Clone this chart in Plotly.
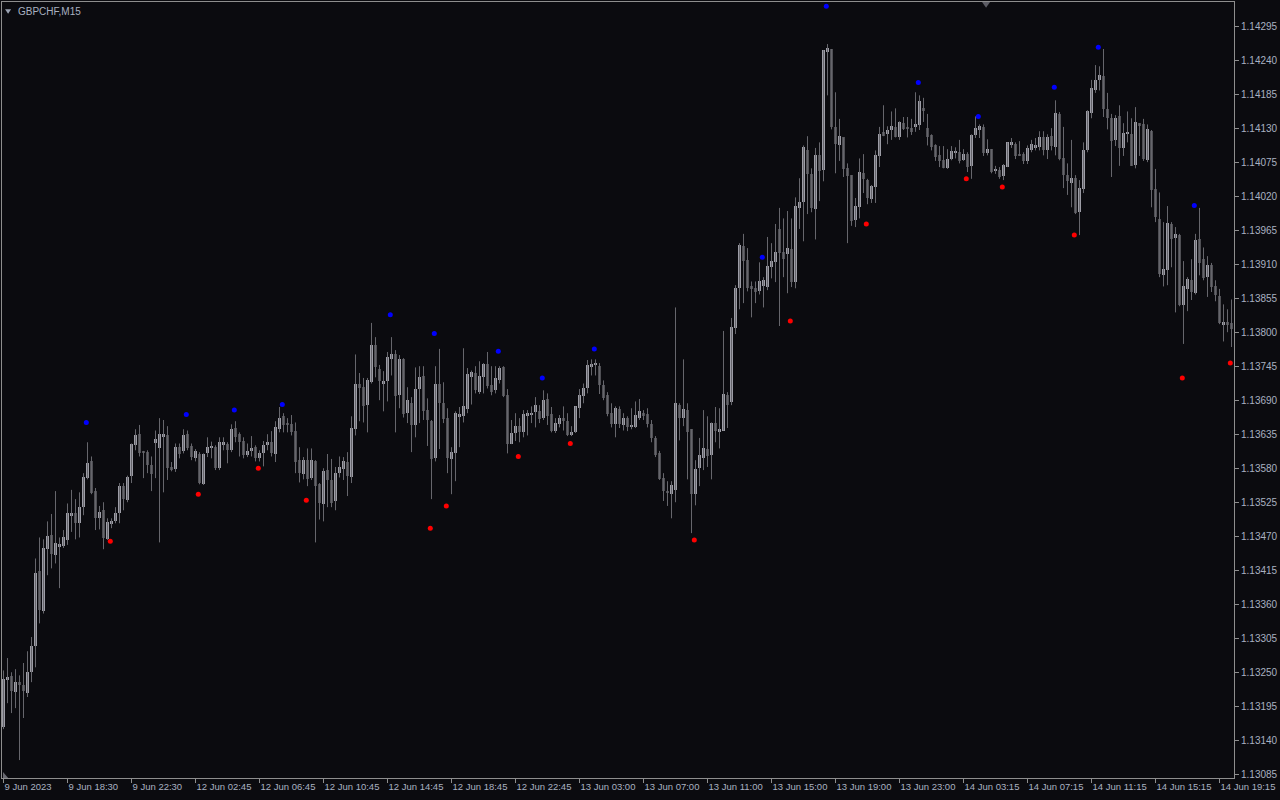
import plotly.graph_objects as go

open_ = [1.13161,1.13237,1.13244,1.13218,1.13235,1.13229,1.13216,1.13250,1.13292,1.13413,
1.13349,1.13449,1.13472,1.13439,1.13454,1.13454,1.13464,1.13504,1.13507,1.13491,
1.13517,1.13564,1.13591,1.13543,1.13499,1.13512,1.13465,1.13491,1.13494,1.13507,
1.13551,1.13528,1.13567,1.13617,1.13635,1.13607,1.13606,1.13586,1.13620,1.13612,
1.13632,1.13633,1.13582,1.13578,1.13614,1.13608,1.13635,1.13616,1.13596,1.13603,
1.13554,1.13604,1.13612,1.13614,1.13580,1.13619,1.13619,1.13609,1.13645,1.13635,
1.13624,1.13601,1.13608,1.13614,1.13596,1.13604,1.13617,1.13622,1.13603,1.13643,
1.13664,1.13652,1.13651,1.13641,1.13593,1.13570,1.13593,1.13564,1.13591,1.13554,
1.13522,1.13577,1.13561,1.13527,1.13572,1.13578,1.13590,1.13565,1.13643,1.13716,
1.13711,1.13682,1.13719,1.13779,1.13740,1.13717,1.13721,1.13756,1.13764,1.13698,
1.13756,1.13669,1.13685,1.13650,1.13708,1.13729,1.13674,1.13656,1.13596,1.13716,
1.13685,1.13661,1.13595,1.13604,1.13664,1.13664,1.13675,1.13727,1.13734,1.13704,
1.13727,1.13748,1.13714,1.13706,1.13722,1.13743,1.13698,1.13619,1.13637,1.13648,
1.13638,1.13666,1.13667,1.13671,1.13672,1.13662,1.13692,1.13667,1.13641,1.13651,
1.13661,1.13656,1.13635,1.13638,1.13677,1.13696,1.13709,1.13743,1.13747,1.13745,
1.13714,1.13698,1.13669,1.13651,1.13675,1.13650,1.13661,1.13646,1.13646,1.13662,
1.13669,1.13667,1.13651,1.13629,1.13604,1.13564,1.13543,1.13538,1.13545,1.13682,
1.13662,1.13674,1.13643,1.13538,1.13580,1.13596,1.13611,1.13601,1.13653,1.13638,
1.13641,1.13698,1.13687,1.13806,1.13871,1.13939,1.13917,1.13874,1.13871,1.13866,
1.13874,1.13873,1.13905,1.13913,1.13967,1.13929,1.13926,1.13934,1.13881,1.14001,
1.14010,1.14094,1.14056,1.13999,1.14086,1.14062,1.14253,1.14258,1.14132,1.14102,
1.14115,1.14065,1.14054,1.13981,1.14002,1.14057,1.14046,1.14015,1.14035,1.14085,
1.14124,1.14120,1.14127,1.14132,1.14115,1.14138,1.14130,1.14130,1.14132,1.14135,
1.14162,1.14130,1.14119,1.14102,1.14086,1.14078,1.14065,1.14080,1.14090,1.14091,
1.14078,1.14088,1.14069,1.14119,1.14127,1.14132,1.14090,1.14096,1.14060,1.14062,
1.14052,1.14067,1.14102,1.14104,1.14088,1.14088,1.14077,1.14094,1.14098,1.14099,
1.14115,1.14094,1.14117,1.14099,1.14153,1.14081,1.14054,1.14041,1.14049,1.13994,
1.14031,1.14094,1.14154,1.14191,1.14208,1.14214,1.14161,1.14146,1.14111,1.14149,
1.14098,1.14122,1.14120,1.14070,1.14138,1.14136,1.14078,1.14125,1.14031,1.13983,
1.13892,1.13900,1.13975,1.13952,1.13957,1.13844,1.13870,1.13884,1.13863,1.13950,
1.13918,1.13889,1.13908,1.13874,1.13858,1.13813,1.13816,1.13815]

high = [1.13253,1.13273,1.13250,1.13255,1.13245,1.13265,1.13284,1.13307,1.13434,1.13468,
1.13465,1.13494,1.13506,1.13543,1.13468,1.13480,1.13523,1.13545,1.13530,1.13541,
1.13572,1.13622,1.13599,1.13548,1.13519,1.13525,1.13499,1.13499,1.13517,1.13556,
1.13556,1.13568,1.13620,1.13643,1.13650,1.13608,1.13609,1.13599,1.13641,1.13661,
1.13658,1.13648,1.13590,1.13620,1.13620,1.13643,1.13641,1.13620,1.13611,1.13606,
1.13604,1.13630,1.13623,1.13617,1.13630,1.13630,1.13622,1.13651,1.13656,1.13638,
1.13630,1.13620,1.13632,1.13617,1.13609,1.13624,1.13635,1.13640,1.13656,1.13679,
1.13669,1.13661,1.13666,1.13654,1.13614,1.13598,1.13612,1.13612,1.13593,1.13556,
1.13580,1.13603,1.13595,1.13582,1.13599,1.13598,1.13606,1.13664,1.13764,1.13734,
1.13726,1.13726,1.13815,1.13792,1.13747,1.13737,1.13768,1.13792,1.13771,1.13763,
1.13758,1.13711,1.13695,1.13743,1.13745,1.13745,1.13693,1.13658,1.13745,1.13773,
1.13719,1.13677,1.13614,1.13672,1.13679,1.13774,1.13742,1.13738,1.13745,1.13753,
1.13750,1.13768,1.13745,1.13745,1.13745,1.13745,1.13708,1.13658,1.13669,1.13661,
1.13674,1.13674,1.13680,1.13695,1.13682,1.13706,1.13701,1.13679,1.13661,1.13666,
1.13680,1.13669,1.13648,1.13680,1.13708,1.13717,1.13755,1.13756,1.13756,1.13750,
1.13722,1.13703,1.13685,1.13680,1.13680,1.13669,1.13664,1.13677,1.13688,1.13692,
1.13674,1.13677,1.13658,1.13632,1.13608,1.13572,1.13559,1.13559,1.13840,1.13685,
1.13756,1.13685,1.13643,1.13593,1.13629,1.13674,1.13664,1.13654,1.13679,1.13677,
1.13802,1.13703,1.13823,1.13876,1.13944,1.13959,1.13936,1.13882,1.13882,1.13913,
1.13889,1.13954,1.13944,1.13975,1.14001,1.13984,1.13996,1.13984,1.14018,1.14049,
1.14102,1.14117,1.14065,1.14098,1.14107,1.14256,1.14266,1.14258,1.14188,1.14145,
1.14115,1.14073,1.14054,1.14017,1.14081,1.14088,1.14048,1.14038,1.14094,1.14132,
1.14167,1.14133,1.14157,1.14162,1.14141,1.14148,1.14148,1.14145,1.14188,1.14183,
1.14179,1.14153,1.14120,1.14104,1.14101,1.14101,1.14096,1.14101,1.14099,1.14111,
1.14096,1.14091,1.14120,1.14149,1.14136,1.14136,1.14112,1.14096,1.14069,1.14067,
1.14072,1.14107,1.14114,1.14107,1.14109,1.14091,1.14102,1.14111,1.14114,1.14125,
1.14125,1.14120,1.14130,1.14175,1.14156,1.14132,1.14073,1.14111,1.14054,1.14046,
1.14107,1.14159,1.14208,1.14232,1.14230,1.14258,1.14187,1.14153,1.14151,1.14167,
1.14138,1.14157,1.14146,1.14164,1.14138,1.14145,1.14136,1.14127,1.14064,1.14026,
1.13978,1.14004,1.13978,1.13970,1.13959,1.13915,1.13889,1.13918,1.13959,1.14001,
1.13937,1.13923,1.13912,1.13884,1.13870,1.13845,1.13837,1.13853]

low = [1.13158,1.13200,1.13184,1.13192,1.13108,1.13176,1.13210,1.13234,1.13258,1.13329,
1.13345,1.13407,1.13418,1.13426,1.13386,1.13451,1.13456,1.13477,1.13465,1.13468,
1.13504,1.13562,1.13538,1.13480,1.13481,1.13449,1.13464,1.13483,1.13491,1.13491,
1.13512,1.13525,1.13556,1.13609,1.13599,1.13564,1.13572,1.13543,1.13564,1.13460,
1.13541,1.13561,1.13575,1.13574,1.13596,1.13604,1.13609,1.13593,1.13591,1.13554,
1.13553,1.13598,1.13596,1.13577,1.13577,1.13609,1.13588,1.13606,1.13622,1.13599,
1.13596,1.13598,1.13599,1.13591,1.13591,1.13583,1.13609,1.13599,1.13590,1.13638,
1.13638,1.13638,1.13633,1.13572,1.13557,1.13562,1.13551,1.13561,1.13460,1.13497,
1.13494,1.13517,1.13517,1.13512,1.13565,1.13561,1.13535,1.13556,1.13633,1.13656,
1.13654,1.13638,1.13717,1.13727,1.13690,1.13672,1.13688,1.13730,1.13638,1.13677,
1.13662,1.13653,1.13606,1.13630,1.13653,1.13658,1.13616,1.13530,1.13591,1.13611,
1.13653,1.13572,1.13538,1.13559,1.13614,1.13654,1.13669,1.13683,1.13701,1.13700,
1.13701,1.13709,1.13698,1.13701,1.13717,1.13695,1.13604,1.13619,1.13624,1.13622,
1.13630,1.13633,1.13653,1.13646,1.13653,1.13658,1.13650,1.13638,1.13637,1.13646,
1.13641,1.13632,1.13632,1.13637,1.13661,1.13685,1.13701,1.13730,1.13730,1.13700,
1.13690,1.13664,1.13646,1.13630,1.13645,1.13641,1.13640,1.13643,1.13645,1.13658,
1.13658,1.13646,1.13622,1.13598,1.13561,1.13527,1.13519,1.13499,1.13525,1.13625,
1.13648,1.13562,1.13475,1.13520,1.13551,1.13577,1.13582,1.13562,1.13622,1.13612,
1.13641,1.13645,1.13682,1.13797,1.13837,1.13847,1.13866,1.13824,1.13847,1.13861,
1.13840,1.13868,1.13887,1.13881,1.13810,1.13889,1.13863,1.13873,1.13871,1.13967,
1.13947,1.13991,1.13994,1.13950,1.14012,1.14044,1.14183,1.14128,1.14057,1.14077,
1.14051,1.13944,1.13972,1.13970,1.13984,1.14025,1.14007,1.14009,1.14009,1.14067,
1.14117,1.14104,1.14111,1.14115,1.14111,1.14127,1.14115,1.14119,1.14124,1.14127,
1.14140,1.14102,1.14094,1.14077,1.14067,1.14065,1.14064,1.14078,1.14081,1.14073,
1.14077,1.14059,1.14048,1.14114,1.14114,1.14085,1.14086,1.14057,1.14056,1.14048,
1.14046,1.14067,1.14098,1.14080,1.14085,1.14072,1.14072,1.14091,1.14094,1.14094,
1.14086,1.14080,1.14094,1.14086,1.14078,1.14033,1.14022,1.14002,1.13991,1.13957,
1.14025,1.14091,1.14146,1.14187,1.14191,1.14148,1.14128,1.14051,1.14101,1.14069,
1.14085,1.14107,1.14069,1.14065,1.14085,1.14077,1.14075,1.14002,1.13978,1.13889,
1.13874,1.13876,1.13905,1.13832,1.13842,1.13781,1.13834,1.13852,1.13861,1.13892,
1.13884,1.13857,1.13865,1.13850,1.13813,1.13785,1.13800,1.13776]

close = [1.13239,1.13242,1.13219,1.13234,1.13229,1.13219,1.13251,1.13292,1.13410,1.13350,
1.13451,1.13470,1.13441,1.13459,1.13457,1.13468,1.13507,1.13507,1.13491,1.13517,
1.13565,1.13588,1.13540,1.13499,1.13510,1.13467,1.13493,1.13494,1.13507,1.13551,
1.13530,1.13565,1.13619,1.13633,1.13604,1.13606,1.13586,1.13570,1.13627,1.13635,
1.13635,1.13580,1.13577,1.13614,1.13603,1.13633,1.13612,1.13598,1.13608,1.13556,
1.13603,1.13614,1.13616,1.13580,1.13622,1.13622,1.13609,1.13643,1.13630,1.13622,
1.13601,1.13608,1.13612,1.13596,1.13604,1.13617,1.13622,1.13604,1.13646,1.13662,
1.13650,1.13651,1.13638,1.13590,1.13572,1.13593,1.13562,1.13593,1.13551,1.13523,
1.13575,1.13561,1.13523,1.13572,1.13582,1.13591,1.13567,1.13645,1.13716,1.13709,
1.13680,1.13722,1.13779,1.13743,1.13721,1.13721,1.13760,1.13764,1.13696,1.13756,
1.13667,1.13690,1.13650,1.13708,1.13727,1.13672,1.13658,1.13595,1.13717,1.13685,
1.13659,1.13596,1.13606,1.13669,1.13667,1.13680,1.13732,1.13735,1.13706,1.13729,
1.13748,1.13713,1.13704,1.13726,1.13742,1.13696,1.13619,1.13637,1.13648,1.13638,
1.13667,1.13669,1.13669,1.13683,1.13659,1.13690,1.13664,1.13641,1.13653,1.13661,
1.13656,1.13633,1.13638,1.13680,1.13698,1.13709,1.13747,1.13748,1.13748,1.13714,
1.13693,1.13667,1.13651,1.13677,1.13651,1.13662,1.13646,1.13650,1.13666,1.13672,
1.13664,1.13651,1.13629,1.13601,1.13562,1.13543,1.13541,1.13553,1.13685,1.13662,
1.13675,1.13638,1.13538,1.13578,1.13601,1.13612,1.13599,1.13653,1.13640,1.13643,
1.13700,1.13683,1.13808,1.13871,1.13941,1.13915,1.13871,1.13871,1.13865,1.13882,
1.13884,1.13907,1.13915,1.13929,1.13928,1.13918,1.13936,1.13881,1.14004,1.14010,
1.14099,1.14056,1.14001,1.14086,1.14060,1.14256,1.14259,1.14132,1.14104,1.14117,
1.14064,1.14052,1.13980,1.14004,1.14059,1.14048,1.14017,1.14036,1.14086,1.14120,
1.14117,1.14127,1.14133,1.14115,1.14140,1.14128,1.14129,1.14124,1.14136,1.14174,
1.14159,1.14115,1.14099,1.14083,1.14077,1.14065,1.14080,1.14093,1.14091,1.14077,
1.14088,1.14067,1.14119,1.14130,1.14133,1.14090,1.14096,1.14059,1.14064,1.14051,
1.14070,1.14107,1.14107,1.14085,1.14085,1.14077,1.14098,1.14104,1.14102,1.14115,
1.14094,1.14115,1.14101,1.14154,1.14080,1.14054,1.14044,1.14049,1.13993,1.14033,
1.14094,1.14157,1.14195,1.14208,1.14216,1.14161,1.14146,1.14109,1.14146,1.14098,
1.14122,1.14124,1.14069,1.14140,1.14135,1.14080,1.14128,1.14030,1.13986,1.13894,
1.13902,1.13976,1.13950,1.13959,1.13844,1.13874,1.13886,1.13865,1.13949,1.13912,
1.13887,1.13908,1.13873,1.13860,1.13815,1.13816,1.13811,1.13805]

# indicator dots: bar index and price
blue_idx = [21, 46, 58, 70, 97, 108, 124, 135, 148, 190, 206, 229, 244, 263, 274, 298]
blue_val = [1.13654, 1.13667, 1.13674, 1.13683, 1.13828, 1.13798, 1.13769, 1.13726,
            1.13773, 1.13921, 1.14327, 1.14204, 1.14149, 1.14196, 1.14261, 1.14005]
red_idx = [27, 49, 64, 76, 107, 111, 129, 142, 173, 197, 216, 241, 250, 268, 295, 307]
red_val = [1.13462, 1.13538, 1.13580, 1.13528, 1.13483, 1.13519, 1.13599, 1.13620,
           1.13464, 1.13818, 1.13975, 1.14048, 1.14035, 1.13957, 1.13726, 1.13750]

# x-axis labels (bar index -> time text)
xtick_idx = [0, 16, 32, 48, 64, 80, 96, 112, 128, 144, 160, 176, 192, 208, 224, 240, 256, 272, 288, 304]
xtick_text = ["9 Jun 2023", "9 Jun 18:30", "9 Jun 22:30", "12 Jun 02:45", "12 Jun 06:45",
              "12 Jun 10:45", "12 Jun 14:45", "12 Jun 18:45", "12 Jun 22:45", "13 Jun 03:00",
              "13 Jun 07:00", "13 Jun 11:00", "13 Jun 15:00", "13 Jun 19:00", "13 Jun 23:00",
              "14 Jun 03:15", "14 Jun 07:15", "14 Jun 11:15", "14 Jun 15:15", "14 Jun 19:15"]

ytick_vals = [1.13085, 1.13140, 1.13195, 1.13250, 1.13305, 1.13360, 1.13415, 1.13470,
              1.13525, 1.13580, 1.13635, 1.13690, 1.13745, 1.13800, 1.13855, 1.13910,
              1.13965, 1.14020, 1.14075, 1.14130, 1.14185, 1.14240, 1.14295]
ytick_text = ["%.5f" % v for v in ytick_vals]

# ---- styles ----
BG = "#0b0b0f"
UP_BODY = "#9d9da6"
DN_BODY = "#4f4f54"
WICK = "#66666c"
FRAME = "#8e8e8e"
TEXT = "#a9b1c1"
FONT = "Liberation Sans"
MIN_BODY = 0.000016
DOT_SHIFT = -0.3

n = len(open_)
idx = list(range(n))

wx, wy = [], []
for i in idx:
    wx += [i, i, None]
    wy += [low[i], high[i], None]

base = [min(o, c) for o, c in zip(open_, close)]
height = [max(abs(c - o), MIN_BODY) for o, c in zip(open_, close)]
colors = [UP_BODY if c >= o else DN_BODY for o, c in zip(open_, close)]

fig = go.Figure()
fig.add_trace(go.Scatter(x=wx, y=wy, mode="lines", line=dict(color=WICK, width=1),
                         hoverinfo="skip", showlegend=False))
fig.add_trace(go.Bar(x=idx, y=height, base=base, width=0.75,
                     marker=dict(color=colors, line=dict(width=0)), showlegend=False))
fig.add_trace(go.Scatter(x=[i + DOT_SHIFT for i in blue_idx], y=blue_val, mode="markers",
                         marker=dict(color="#0000ff", size=5), showlegend=False))
fig.add_trace(go.Scatter(x=[i + DOT_SHIFT for i in red_idx], y=red_val, mode="markers",
                         marker=dict(color="#ff0000", size=5), showlegend=False))

fig.update_layout(
    width=1280, height=800,
    margin=dict(l=2, r=46, t=2, b=22, pad=0, autoexpand=False),
    paper_bgcolor=BG, plot_bgcolor=BG,
    bargap=0, showlegend=False,
    font=dict(family=FONT, size=10, color=TEXT),
    xaxis=dict(range=[-0.375, 307.625], tickvals=xtick_idx, ticktext=xtick_text,
               showgrid=False, zeroline=False, showline=True, linecolor=FRAME, linewidth=1,
               mirror=True, ticks="outside", ticklen=4, tickcolor=FRAME, automargin=False,
               ticklabelposition="outside right", ticklabeloverflow="allow",
               tickfont=dict(size=9.5, color=TEXT), fixedrange=True),
    yaxis=dict(range=[1.13079, 1.14334], side="right", tickvals=ytick_vals, ticktext=ytick_text,
               showgrid=False, zeroline=False, showline=True, linecolor=FRAME, linewidth=1,
               mirror=True, ticks="outside", ticklen=4, tickcolor=FRAME, automargin=False,
               ticklabeloverflow="allow",
               tickfont=dict(size=10, color=TEXT), fixedrange=True),
)

# symbol caption and small chart markers
fig.add_annotation(xref="paper", yref="paper", x=0.0115, y=0.9875, xanchor="left", yanchor="middle",
                   text="GBPCHF,M15", showarrow=False, font=dict(family=FONT, size=10, color=TEXT))
fig.add_shape(type="path", xref="paper", yref="paper",
              path="M 0.0025 0.9905 L 0.0074 0.9905 L 0.00495 0.9850 Z",
              fillcolor="#9aa2b2", line=dict(width=0))
fig.add_shape(type="path", xref="paper", yref="paper",
              path="M 0.7955 1.0 L 0.8020 1.0 L 0.79875 0.9925 Z",
              fillcolor="#5c5c64", line=dict(width=0))
fig.add_shape(type="path", xref="paper", yref="paper",
              path="M 0.0008 0.0 L 0.0008 0.0077 L 0.0050 0.0 Z",
              fillcolor="#6a6a72", line=dict(width=0))

fig.write_html("out.html", config={"displayModeBar": False},
               post_script="document.body.style.margin='0px';document.body.style.background='%s';" % BG)
